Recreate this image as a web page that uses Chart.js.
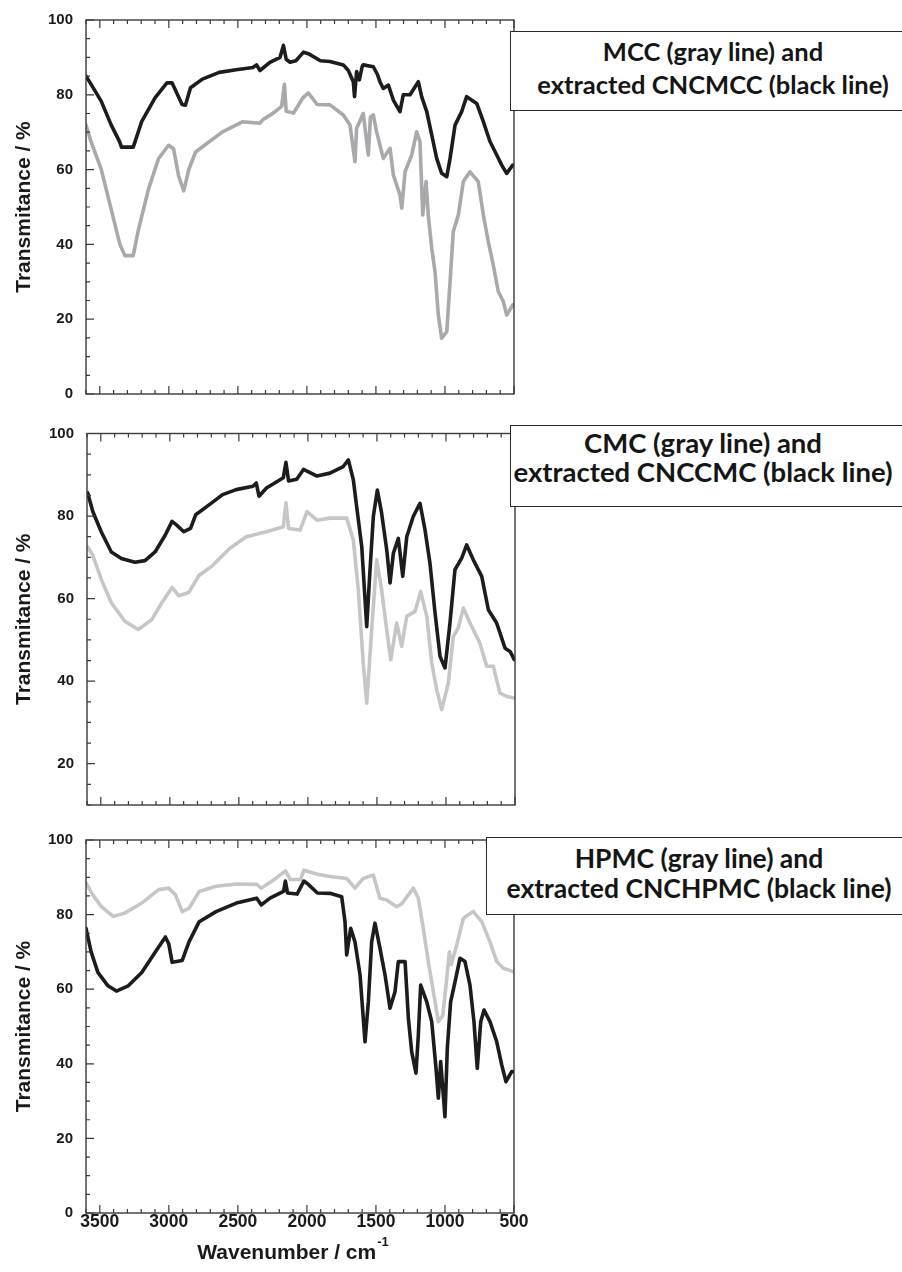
<!DOCTYPE html>
<html>
<head>
<meta charset="utf-8">
<title>FTIR spectra</title>
<script src="https://cdn.jsdelivr.net/npm/chart.js@4.4.1/dist/chart.umd.min.js"></script>
<style>
  html, body { margin: 0; padding: 0; background: #fff; }
  body { width: 902px; height: 1272px; position: relative; overflow: hidden; }
  .panel { position: absolute; left: 0; width: 540px; }
  .label-box {
    position: absolute; background: #fff; border: 1.5px solid #2a2a2a; box-sizing: border-box;
    font-family: Lato, 'Open Sans', sans-serif; font-weight: 700; color: #151515;
  }
  .label-box div { position: absolute; left: 0; white-space: nowrap; text-align: center; line-height: 1.2; }
</style>
</head>
<body>

<div class="panel" style="top:0;height:415px"><canvas id="c1"></canvas></div>
<div class="panel" style="top:415px;height:400px"><canvas id="c2"></canvas></div>
<div class="panel" style="top:825px;height:447px"><canvas id="c3"></canvas></div>

<div class="label-box" style="left:510px;top:31px;width:405px;height:80px;font-size:25.5px">
  <div style="top:4px;width:404px">MCC (gray line) and</div>
  <div style="top:37px;width:404px">extracted CNCMCC (black line)</div>
</div>
<div class="label-box" style="left:510px;top:425px;width:400px;height:82px;font-size:27.5px">
  <div style="top:0px;width:384px">CMC (gray line) and</div>
  <div style="top:29px;width:384px">extracted CNCCMC (black line)</div>
</div>
<div class="label-box" style="left:486px;top:837px;width:424px;height:78px;font-size:26.5px">
  <div style="top:5px;width:424px">HPMC (gray line) and</div>
  <div style="top:35px;width:424px">extracted CNCHPMC (black line)</div>
</div>

<script>
// tick labels
const xTickValues = [3500, 3000, 2500, 2000, 1500, 1000, 500];
const yTicksFull = [0, 20, 40, 60, 80, 100];
const yTicksCmc = [20, 40, 60, 80, 100];

// MCC (gray) and CNCMCC (black)
const mccWave = [3600, 3563, 3490, 3417, 3356, 3319, 3258, 3221, 3148, 3075, 3002, 2966, 2929, 2892, 2855, 2806, 2709, 2611, 2464, 2342, 2320, 2244, 2183, 2163, 2150, 2097, 2029, 1990, 1926, 1833, 1736, 1688, 1652, 1640, 1592, 1555, 1540, 1519, 1495, 1447, 1398, 1374, 1326, 1313, 1289, 1241, 1205, 1181, 1161, 1137, 1121, 1096, 1072, 1048, 1024, 987, 963, 940, 903, 867, 819, 759, 722, 686, 650, 614, 577, 553, 509];
const mccT = [71.9, 67.4, 60.1, 49.3, 40.2, 37, 37, 43.8, 54.7, 62.9, 66.5, 65.6, 58.3, 54.3, 60.1, 64.7, 67.4, 70.1, 72.8, 72.4, 73.3, 75.1, 76.9, 82.8, 75.6, 75.1, 79.2, 80.5, 77.4, 77.3, 74.6, 71.9, 62.1, 71, 75, 63.9, 74, 74.6, 70.1, 63, 65.7, 58.6, 53.2, 49.7, 59.4, 63.9, 70.1, 67.5, 47.9, 56.8, 47.9, 39, 32.7, 21.1, 14.9, 16.7, 30, 43.4, 47.9, 56.8, 59.4, 56.8, 47.9, 40.7, 34.5, 27.4, 24.7, 21.1, 23.8];
const cncMccWave = [3600, 3563, 3490, 3417, 3356, 3343, 3258, 3197, 3100, 3014, 2977, 2904, 2880, 2843, 2757, 2635, 2513, 2391, 2365, 2340, 2268, 2195, 2170, 2150, 2122, 2080, 2024, 1990, 1902, 1833, 1736, 1700, 1664, 1655, 1640, 1620, 1600, 1592, 1519, 1490, 1471, 1447, 1410, 1374, 1326, 1302, 1253, 1193, 1169, 1132, 1096, 1060, 1024, 987, 963, 927, 879, 843, 770, 722, 674, 625, 589, 553, 509];
const cncMccT = [85, 82.8, 78.3, 71.9, 67.4, 66, 66, 72.8, 79.2, 83.2, 83.2, 77.4, 77.2, 81.9, 84.2, 86, 86.7, 87.3, 88, 86.5, 88.7, 90, 93.2, 89.5, 88.7, 89.1, 91.4, 91, 89.1, 88.9, 88, 86.5, 83.5, 79.5, 86.2, 84, 87.5, 88, 87.5, 85.5, 83.5, 81.7, 82.6, 78.6, 75.5, 80, 80, 83.5, 79.5, 75.5, 69.3, 63, 59, 58.1, 63, 71.9, 75.5, 79.5, 77.7, 72.8, 67.5, 63.9, 61.2, 59, 61.2];

// CMC (gray) and CNCCMC (black)
const cmcWave = [3595, 3558, 3497, 3424, 3326, 3229, 3131, 3058, 2984, 2936, 2862, 2789, 2691, 2569, 2447, 2300, 2178, 2159, 2140, 2056, 2007, 1934, 1840, 1719, 1671, 1635, 1599, 1574, 1538, 1502, 1466, 1429, 1400, 1357, 1321, 1284, 1224, 1183, 1139, 1103, 1067, 1031, 983, 947, 911, 874, 826, 754, 705, 657, 609, 560, 505];
const cmcT = [72.5, 70.5, 64.7, 59, 54.5, 52.5, 54.9, 59, 62.7, 60.7, 61.5, 65.6, 68, 72.1, 75, 76.2, 77.4, 83.2, 77, 76.6, 81.1, 79, 79.5, 79.5, 74.2, 62.1, 44.4, 34.7, 52.4, 69.4, 62.1, 52.4, 45.2, 54.1, 48.4, 55.7, 56.9, 61.7, 55.7, 44.4, 37.9, 33.1, 39.5, 50.8, 52.9, 57.7, 54.1, 49.2, 43.6, 43.6, 37.1, 36.3, 35.9];
const cncCmcWave = [3595, 3558, 3497, 3424, 3351, 3253, 3180, 3107, 3033, 2984, 2950, 2899, 2850, 2813, 2716, 2618, 2520, 2398, 2374, 2354, 2300, 2178, 2159, 2140, 2081, 2032, 1934, 1840, 1744, 1707, 1671, 1647, 1610, 1574, 1550, 1526, 1497, 1466, 1429, 1405, 1381, 1345, 1313, 1284, 1237, 1188, 1152, 1116, 1079, 1043, 1007, 971, 935, 886, 850, 802, 741, 693, 633, 572, 536, 505];
const cncCmcT = [85.6, 81.1, 76.2, 71.3, 69.7, 68.8, 69.2, 71.3, 75.4, 78.7, 77.8, 76.2, 77, 80.3, 82.7, 85.2, 86.4, 87.2, 88, 84.8, 86.8, 89.3, 93, 88.5, 88.9, 91.3, 89.7, 90.4, 92, 93.6, 88.8, 82.3, 72.6, 53.2, 67, 79.9, 86.3, 80.7, 71.8, 63.8, 71, 74.6, 65.4, 75, 79.9, 83.1, 76.7, 68.6, 56.5, 46, 43.2, 54.1, 67, 69.8, 73, 69.4, 65.4, 57.3, 54.1, 48, 47.2, 45.2];

// HPMC (gray) and CNCHPMC (black)
const hpmcWave = [3600, 3551, 3490, 3404, 3319, 3196, 3074, 3001, 2952, 2903, 2854, 2780, 2658, 2511, 2364, 2330, 2218, 2156, 2120, 2046, 2022, 1924, 1833, 1712, 1652, 1592, 1519, 1471, 1422, 1350, 1313, 1229, 1193, 1157, 1121, 1084, 1048, 1016, 987, 968, 955, 915, 867, 795, 734, 674, 625, 577, 505];
const hpmcT = [88.5, 85.3, 82.2, 79.5, 80.4, 83.1, 86.7, 87.1, 85.3, 80.8, 81.7, 86.2, 87.6, 88.2, 88.1, 87.1, 89.9, 91.7, 89.4, 89.4, 91.9, 90.8, 90.2, 89.7, 87.1, 89.7, 90.6, 84.4, 83.9, 82.1, 82.9, 87.1, 84.4, 76.3, 67.4, 59.3, 51.3, 52.9, 62.9, 70, 66.6, 71.8, 79, 80.8, 78.1, 72.7, 67.4, 65.6, 64.7];
const cncHpmcWave = [3600, 3563, 3514, 3441, 3380, 3294, 3196, 3098, 3025, 3001, 2976, 2903, 2854, 2780, 2658, 2511, 2364, 2330, 2267, 2169, 2156, 2140, 2071, 2022, 1990, 1924, 1833, 1748, 1724, 1712, 1683, 1652, 1615, 1579, 1555, 1531, 1507, 1471, 1434, 1398, 1362, 1338, 1289, 1265, 1241, 1210, 1193, 1176, 1132, 1096, 1065, 1048, 1031, 1000, 983, 959, 927, 891, 855, 819, 790, 766, 741, 717, 674, 625, 589, 558, 517, 505];
const cncHpmcT = [76.3, 70, 64.5, 60.9, 59.5, 60.9, 64.5, 70, 74, 72.2, 67.2, 67.7, 72.7, 78.1, 80.8, 83.1, 84.4, 82.6, 84.4, 86.2, 89, 85.8, 85.5, 89, 88.1, 85.8, 85.7, 84.8, 78.1, 69.2, 76.3, 72.7, 63.8, 45.9, 56.6, 72.7, 77.7, 71, 63.8, 54.9, 59.3, 67.4, 67.4, 52.2, 43.2, 37.5, 47.7, 61.1, 56.6, 51.3, 38.8, 30.8, 40.6, 25.8, 44.2, 56.6, 62, 68.3, 67.4, 61.1, 51.3, 38.8, 51.3, 54.4, 51.3, 45.9, 39.7, 35.2, 37.9, 37.9];

const BLACK = '#1c1c1c';
const axisFont = "'Liberation Sans', Arial, sans-serif";

const toPoints = (xs, ys) => xs.map((x, i) => ({ x: x, y: ys[i] }));

// frame with inward ticks (major every 500 / 20, minor every 100 / 5)
const frameTicks = {
  id: 'frameTicks',
  afterDraw(chart) {
    const { ctx, chartArea: a, scales: { x, y } } = chart;
    ctx.save();
    ctx.strokeStyle = '#3a3a3a';
    ctx.lineWidth = 1.4;
    ctx.strokeRect(a.left, a.top, a.right - a.left, a.bottom - a.top);
    ctx.lineWidth = 1.2;
    ctx.beginPath();
    for (let v = x.min; v <= x.max; v += 100) {
      const px = x.getPixelForValue(v);
      const len = v % 500 === 0 ? 8 : 4;
      ctx.moveTo(px, a.bottom); ctx.lineTo(px, a.bottom - len);
      ctx.moveTo(px, a.top); ctx.lineTo(px, a.top + len);
    }
    for (let v = y.min; v <= y.max; v += 5) {
      const py = y.getPixelForValue(v);
      const len = v % 20 === 0 ? 8 : 4;
      ctx.moveTo(a.left, py); ctx.lineTo(a.left + len, py);
    }
    ctx.stroke();
    ctx.restore();
  }
};

// x axis title with superscript, only on the bottom panel
const xTitle = {
  id: 'xTitle',
  afterDraw(chart, args, opts) {
    if (!opts.show) return;
    const { ctx } = chart;
    const main = 'Wavenumber / cm';
    const sup = '-1';
    ctx.save();
    ctx.fillStyle = '#1a1a1a';
    ctx.font = "bold 21px " + axisFont;
    const w1 = ctx.measureText(main).width;
    ctx.font = "bold 13px " + axisFont;
    const w2 = ctx.measureText(sup).width;
    const start = 293 - (w1 + w2 + 1) / 2;
    ctx.textBaseline = 'alphabetic';
    ctx.font = "bold 21px " + axisFont;
    ctx.fillText(main, start, 434);
    ctx.font = "bold 13px " + axisFont;
    ctx.fillText(sup, start + w1 + 1, 421);
    ctx.restore();
  }
};

function makePanel(id, p) {
  return new Chart(document.getElementById(id), {
    type: 'line',
    data: {
      datasets: [
        { label: p.blackName, data: toPoints(p.blackWave, p.blackT), borderColor: BLACK, borderWidth: 3.6 },
        { label: p.grayName, data: toPoints(p.grayWave, p.grayT), borderColor: p.grayColor, borderWidth: 3.6 }
      ]
    },
    options: {
      responsive: true,
      maintainAspectRatio: false,
      animation: false,
      events: [],
      layout: { autoPadding: false, padding: { top: p.padTop, right: p.padRight, bottom: 0, left: 0 } },
      elements: { point: { radius: 0 }, line: { tension: 0, borderJoinStyle: 'round', borderCapStyle: 'round' } },
      plugins: { legend: { display: false }, tooltip: { enabled: false }, xTitle: { show: p.showX } },
      scales: {
        x: {
          type: 'linear', reverse: true, min: 500, max: 3600,
          grid: { display: false, drawTicks: false },
          border: { display: false },
          afterBuildTicks: (s) => { s.ticks = xTickValues.map(v => ({ value: v })); },
          afterFit: (s) => { s.height = p.xHeight; s.paddingLeft = 0; s.paddingRight = 0; },
          ticks: {
            display: p.showX, autoSkip: false, maxRotation: 0, padding: 0, color: '#1a1a1a',
            callback: (v) => String(v),
            font: { family: axisFont, size: 17.5, weight: 'bold', lineHeight: 1 }
          }
        },
        y: {
          min: p.yMin, max: 100,
          grid: { display: false, drawTicks: false },
          border: { display: false },
          afterBuildTicks: (s) => { s.ticks = p.yTicks.map(v => ({ value: v })); },
          afterFit: (s) => { s.width = p.yWidth; s.paddingTop = 0; s.paddingBottom = 0; },
          ticks: { padding: 13, color: '#1a1a1a', font: { family: axisFont, size: 15, weight: 'bold' } },
          title: {
            display: true, text: 'Transmitance / %', color: '#1a1a1a',
            padding: { top: 12, bottom: 0 },
            font: { family: axisFont, size: 21, weight: 'bold' }
          }
        }
      }
    },
    plugins: [frameTicks, xTitle]
  });
}

makePanel('c1', {
  blackName: 'CNCMCC', blackWave: cncMccWave, blackT: cncMccT,
  grayName: 'MCC', grayWave: mccWave, grayT: mccT, grayColor: '#a9a9ad',
  yMin: 0, yTicks: yTicksFull, padTop: 20, padRight: 26, yWidth: 86, xHeight: 21, showX: false
});
makePanel('c2', {
  blackName: 'CNCCMC', blackWave: cncCmcWave, blackT: cncCmcT,
  grayName: 'CMC', grayWave: cmcWave, grayT: cmcT, grayColor: '#c6c6c6',
  yMin: 10, yTicks: yTicksCmc, padTop: 18.5, padRight: 25, yWidth: 87, xHeight: 10, showX: false
});
makePanel('c3', {
  blackName: 'CNCHPMC', blackWave: cncHpmcWave, blackT: cncHpmcT,
  grayName: 'HPMC', grayWave: hpmcWave, grayT: hpmcT, grayColor: '#c6c6c6',
  yMin: 0, yTicks: yTicksFull, padTop: 15, padRight: 26, yWidth: 86, xHeight: 59, showX: true
});
</script>
</body>
</html>
